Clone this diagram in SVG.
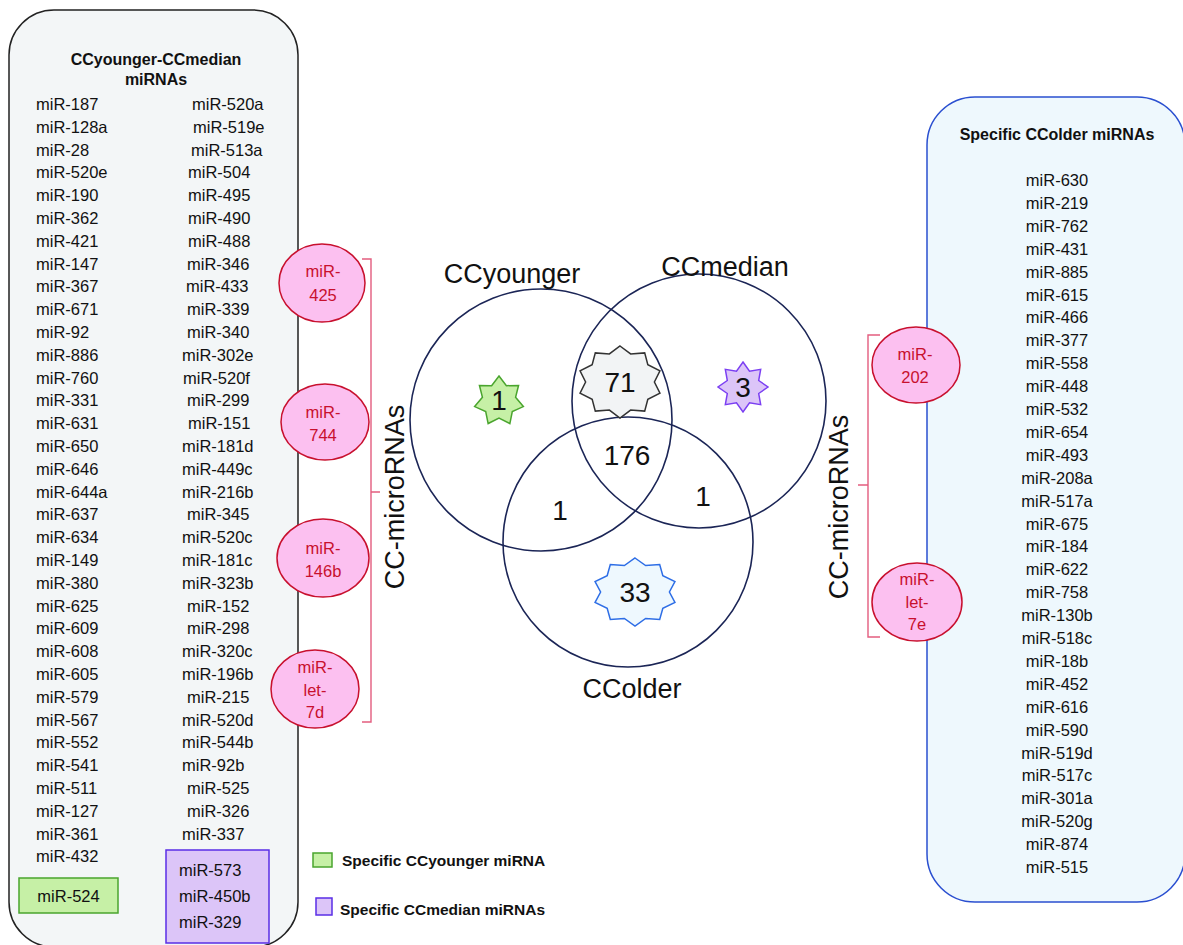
<svg xmlns="http://www.w3.org/2000/svg" width="1183" height="945" viewBox="0 0 1183 945">
<style>
text{font-family:"Liberation Sans",Arial,sans-serif;fill:#111}
.li{font-size:16.5px}
.t{font-size:16px;font-weight:bold}
.lg{font-size:15.5px;font-weight:bold}
.pk ellipse{fill:#fcc0f0;stroke:#c8102e;stroke-width:1.5}
.pk text{font-size:16.5px;fill:#c8102e;text-anchor:middle}
.vc{fill:none;stroke:#1b2556;stroke-width:1.6}
.vl{font-size:27px;text-anchor:middle}
.num{font-size:28px;text-anchor:middle}
.br{fill:none;stroke:#e35d7f;stroke-width:1.4}
.cc{font-size:27px;text-anchor:middle}
</style>
<rect width="1183" height="945" fill="#fff"/>

<g id="left-panel">
<rect x="9" y="10" width="289" height="937" rx="45" fill="#f3f6f7" stroke="#222" stroke-width="1.5"/>
<text class="t" x="156" y="65" text-anchor="middle">CCyounger-CCmedian</text>
<text class="t" x="156" y="85" text-anchor="middle">miRNAs</text>
<g class="li">
<text class="li" x="36" y="110">miR-187</text>
<text class="li" x="36" y="132.8">miR-128a</text>
<text class="li" x="36" y="155.6">miR-28</text>
<text class="li" x="36" y="178.4">miR-520e</text>
<text class="li" x="36" y="201.2">miR-190</text>
<text class="li" x="36" y="224">miR-362</text>
<text class="li" x="36" y="246.8">miR-421</text>
<text class="li" x="36" y="269.6">miR-147</text>
<text class="li" x="36" y="292.4">miR-367</text>
<text class="li" x="36" y="315.2">miR-671</text>
<text class="li" x="36" y="338">miR-92</text>
<text class="li" x="36" y="360.8">miR-886</text>
<text class="li" x="36" y="383.6">miR-760</text>
<text class="li" x="36" y="406.4">miR-331</text>
<text class="li" x="36" y="429.2">miR-631</text>
<text class="li" x="36" y="452">miR-650</text>
<text class="li" x="36" y="474.8">miR-646</text>
<text class="li" x="36" y="497.6">miR-644a</text>
<text class="li" x="36" y="520.4">miR-637</text>
<text class="li" x="36" y="543.2">miR-634</text>
<text class="li" x="36" y="566">miR-149</text>
<text class="li" x="36" y="588.8">miR-380</text>
<text class="li" x="36" y="611.6">miR-625</text>
<text class="li" x="36" y="634.4">miR-609</text>
<text class="li" x="36" y="657.2">miR-608</text>
<text class="li" x="36" y="680">miR-605</text>
<text class="li" x="36" y="702.8">miR-579</text>
<text class="li" x="36" y="725.6">miR-567</text>
<text class="li" x="36" y="748.4">miR-552</text>
<text class="li" x="36" y="771.2">miR-541</text>
<text class="li" x="36" y="794">miR-511</text>
<text class="li" x="36" y="816.8">miR-127</text>
<text class="li" x="36" y="839.6">miR-361</text>
<text class="li" x="36" y="862.4">miR-432</text>

<text class="li" x="192" y="110">miR-520a</text>
<text class="li" x="193" y="132.8">miR-519e</text>
<text class="li" x="191" y="155.6">miR-513a</text>
<text class="li" x="188" y="178.4">miR-504</text>
<text class="li" x="188" y="201.2">miR-495</text>
<text class="li" x="188" y="224">miR-490</text>
<text class="li" x="188" y="246.8">miR-488</text>
<text class="li" x="187" y="269.6">miR-346</text>
<text class="li" x="186" y="292.4">miR-433</text>
<text class="li" x="187" y="315.2">miR-339</text>
<text class="li" x="187" y="338">miR-340</text>
<text class="li" x="182" y="360.8">miR-302e</text>
<text class="li" x="183" y="383.6">miR-520f</text>
<text class="li" x="187" y="406.4">miR-299</text>
<text class="li" x="188" y="429.2">miR-151</text>
<text class="li" x="182" y="452">miR-181d</text>
<text class="li" x="182" y="474.8">miR-449c</text>
<text class="li" x="182" y="497.6">miR-216b</text>
<text class="li" x="187" y="520.4">miR-345</text>
<text class="li" x="182" y="543.2">miR-520c</text>
<text class="li" x="182" y="566">miR-181c</text>
<text class="li" x="182" y="588.8">miR-323b</text>
<text class="li" x="187" y="611.6">miR-152</text>
<text class="li" x="187" y="634.4">miR-298</text>
<text class="li" x="182" y="657.2">miR-320c</text>
<text class="li" x="182" y="680">miR-196b</text>
<text class="li" x="187" y="702.8">miR-215</text>
<text class="li" x="182" y="725.6">miR-520d</text>
<text class="li" x="182" y="748.4">miR-544b</text>
<text class="li" x="182" y="771.2">miR-92b</text>
<text class="li" x="187" y="794">miR-525</text>
<text class="li" x="187" y="816.8">miR-326</text>
<text class="li" x="182" y="839.6">miR-337</text>
</g>
</g>

<g id="green-box">
<rect x="19" y="878" width="99" height="35" fill="#c6f0a6" stroke="#4aa52e" stroke-width="1.5"/>
<text class="li" x="68.5" y="902" text-anchor="middle">miR-524</text>
</g>
<g id="purple-box">
<rect x="166" y="850" width="103" height="93" fill="#dcc5f8" stroke="#5a2ee6" stroke-width="1.5"/>
<text class="li" x="179" y="876">miR-573</text>
<text class="li" x="179" y="902">miR-450b</text>
<text class="li" x="179" y="928">miR-329</text>
</g>

<g id="right-panel">
<rect x="927" y="97" width="258" height="805" rx="48" fill="#eef8fd" stroke="#2a4fd0" stroke-width="1.5"/>
<text class="t" x="1057" y="140" text-anchor="middle">Specific CColder miRNAs</text>
<g class="li" text-anchor="middle">
<text class="li" x="1057" y="186">miR-630</text>
<text class="li" x="1057" y="208.9">miR-219</text>
<text class="li" x="1057" y="231.8">miR-762</text>
<text class="li" x="1057" y="254.7">miR-431</text>
<text class="li" x="1057" y="277.6">miR-885</text>
<text class="li" x="1057" y="300.5">miR-615</text>
<text class="li" x="1057" y="323.4">miR-466</text>
<text class="li" x="1057" y="346.3">miR-377</text>
<text class="li" x="1057" y="369.2">miR-558</text>
<text class="li" x="1057" y="392.1">miR-448</text>
<text class="li" x="1057" y="415">miR-532</text>
<text class="li" x="1057" y="437.9">miR-654</text>
<text class="li" x="1057" y="460.8">miR-493</text>
<text class="li" x="1057" y="483.7">miR-208a</text>
<text class="li" x="1057" y="506.6">miR-517a</text>
<text class="li" x="1057" y="529.5">miR-675</text>
<text class="li" x="1057" y="552.4">miR-184</text>
<text class="li" x="1057" y="575.3">miR-622</text>
<text class="li" x="1057" y="598.2">miR-758</text>
<text class="li" x="1057" y="621.1">miR-130b</text>
<text class="li" x="1057" y="644">miR-518c</text>
<text class="li" x="1057" y="666.9">miR-18b</text>
<text class="li" x="1057" y="689.8">miR-452</text>
<text class="li" x="1057" y="712.7">miR-616</text>
<text class="li" x="1057" y="735.6">miR-590</text>
<text class="li" x="1057" y="758.5">miR-519d</text>
<text class="li" x="1057" y="781.4">miR-517c</text>
<text class="li" x="1057" y="804.3">miR-301a</text>
<text class="li" x="1057" y="827.2">miR-520g</text>
<text class="li" x="1057" y="850.1">miR-874</text>
<text class="li" x="1057" y="873">miR-515</text>
</g>
</g>

<g id="connectors">
<path class="br" d="M362,259 H371 V722 H362 M371,492 H380"/>
<path class="br" d="M880,335 H868 V637 H880 M868,485 H858"/>
</g>

<g id="cc-left"><text class="cc" transform="translate(404,497) rotate(-90)">CC-microRNAs</text></g>
<g id="cc-right"><text class="cc" transform="translate(848,507) rotate(-90)">CC-microRNAs</text></g>

<g id="mir-425" class="pk"><ellipse cx="322" cy="283" rx="43" ry="39"/><text x="323" y="277">miR-</text><text x="323" y="301">425</text></g>
<g id="mir-744" class="pk"><ellipse cx="325" cy="422" rx="44" ry="38"/><text x="323" y="418">miR-</text><text x="323" y="441">744</text></g>
<g id="mir-146b" class="pk"><ellipse cx="323" cy="558" rx="46" ry="39"/><text x="323" y="554">miR-</text><text x="323" y="577">146b</text></g>
<g id="mir-let-7d" class="pk"><ellipse cx="315" cy="689" rx="44" ry="39"/><text x="315" y="673">miR-</text><text x="315" y="696">let-</text><text x="315" y="718">7d</text></g>
<g id="mir-202" class="pk"><ellipse cx="916" cy="365" rx="44" ry="38"/><text x="915" y="360">miR-</text><text x="915" y="383">202</text></g>
<g id="mir-let-7e" class="pk"><ellipse cx="917" cy="602" rx="45" ry="39"/><text x="917" y="585">miR-</text><text x="917" y="608">let-</text><text x="917" y="630">7e</text></g>

<g id="venn">
<circle class="vc" cx="541" cy="420" r="131"/>
<circle class="vc" cx="699" cy="401" r="127"/>
<circle class="vc" cx="628" cy="542" r="125"/>
<text class="vl" x="512" y="283">CCyounger</text>
<text class="vl" x="725" y="276">CCmedian</text>
<text class="vl" x="632" y="698">CColder</text>
</g>

<g id="star-younger">
<polygon transform="translate(499,401)" fill="#c6f0a6" stroke="#4aa52e" stroke-width="1.5" points="0,-25 7.38,-15.32 19.55,-15.59 16.57,-3.78 24.37,5.56 13.29,10.6 10.85,22.53 0,17 -10.85,22.53 -13.29,10.6 -24.37,5.56 -16.57,-3.78 -19.55,-15.59 -7.38,-15.32"/>
<text class="num" x="499" y="410">1</text>
</g>
<g id="star-shared">
<polygon transform="translate(620,382)" fill="#f2f4f5" stroke="#333" stroke-width="1.5" points="0,-36 10.63,-28.06 24.69,-29.12 27.83,-17.34 39.95,-11.12 34.4,0 39.95,11.12 27.83,17.34 24.69,29.12 10.63,28.06 0,36 -10.63,28.06 -24.69,29.12 -27.83,17.34 -39.95,11.12 -34.4,0 -39.95,-11.12 -27.83,-17.34 -24.69,-29.12 -10.63,-28.06"/>
<text class="num" x="620" y="392">71</text>
</g>
<g id="star-median">
<polygon transform="translate(743,387)" fill="#dcc5f8" stroke="#7b3ff2" stroke-width="1.5" points="0,-25 6.51,-15.71 17.68,-17.68 15.71,-6.51 25,0 15.71,6.51 17.68,17.68 6.51,15.71 0,25 -6.51,15.71 -17.68,17.68 -15.71,6.51 -25,0 -15.71,-6.51 -17.68,-17.68 -6.51,-15.71"/>
<text class="num" x="743" y="397">3</text>
</g>
<g id="star-older">
<polygon transform="translate(635,592)" fill="#eef8fe" stroke="#2e6ee6" stroke-width="1.5" points="0,-34 10.63,-26.5 24.69,-27.5 27.83,-16.4 39.95,-10.5 34.4,0 39.95,10.5 27.83,16.4 24.69,27.5 10.63,26.5 0,34 -10.63,26.5 -24.69,27.5 -27.83,16.4 -39.95,10.5 -34.4,0 -39.95,-10.5 -27.83,-16.4 -24.69,-27.5 -10.63,-26.5"/>
<text class="num" x="635" y="602">33</text>
</g>
<g id="counts">
<text class="num" x="627" y="465">176</text>
<text class="num" x="560" y="520">1</text>
<text class="num" x="703" y="506">1</text>
</g>

<g id="legend">
<rect x="313" y="853" width="19" height="14" fill="#c6f0a6" stroke="#4aa52e" stroke-width="1.5"/>
<text class="lg" x="342" y="866">Specific CCyounger miRNA</text>
<rect x="316" y="898" width="16" height="17" fill="#dcc5f8" stroke="#5a2ee6" stroke-width="1.5"/>
<text class="lg" x="340" y="915">Specific CCmedian miRNAs</text>
</g>
</svg>
